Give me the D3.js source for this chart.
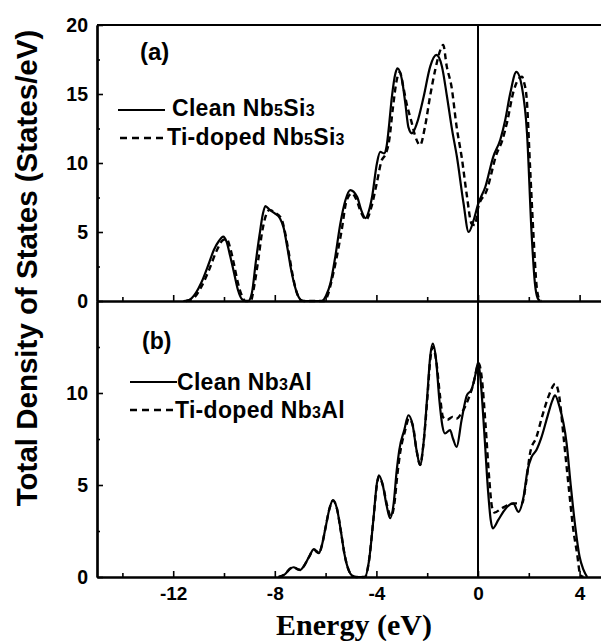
<!DOCTYPE html>
<html><head><meta charset="utf-8">
<script src="https://cdn.jsdelivr.net/npm/d3@7"></script>
<style>html,body{margin:0;padding:0;background:#fff;}svg{display:block;}</style>
</head><body>
<svg id="chart" width="601" height="641"></svg>
<script>
// ---------- data ----------
const energyTicks = [-12, -8, -4, 0, 4];
const energyMinorTicks = [-14, -10, -6, -2, 2];
const dosTicksA = [0, 5, 10, 15, 20];
const dosMinorA = [2.5, 7.5, 12.5, 17.5];
const dosTicksB = [0, 5, 10];
const dosMinorB = [2.5, 7.5, 12.5];

const legendA = ["Clean Nb5Si3", "Ti-doped Nb5Si3"];
const legendB = ["Clean Nb3Al", "Ti-doped Nb3Al"];

// panel (a): clean Nb5Si3  [energy eV, DOS]
const cleanA = [[-11.6,0],[-11.4,0.05],[-11.1,0.6],[-10.9,1.3],[-10.6,2.7],[-10.4,3.7],[-10.2,4.35],[-10.03,4.66],[-9.9,4.3],[-9.75,3.2],[-9.6,2.0],[-9.45,0.8],[-9.3,0.15],[-9.15,0],
 [-9.05,0],[-8.9,0.6],[-8.75,2.8],[-8.6,4.8],[-8.47,6.3],[-8.37,6.88],[-8.2,6.6],[-8.0,6.35],[-7.8,6.0],[-7.65,5.3],[-7.5,3.8],[-7.35,2.2],[-7.2,1.0],[-7.05,0.25],[-6.9,0],
 [-6.15,0],[-5.98,0.4],[-5.81,1.28],[-5.62,3.2],[-5.42,5.6],[-5.22,7.3],[-5.03,8.04],[-4.76,7.55],[-4.6,6.6],[-4.43,6.0],[-4.3,6.5],[-4.17,7.55],[-3.98,9.97],[-3.85,10.8],[-3.7,10.7],[-3.6,11.2],[-3.52,12.4],[-3.39,14.8],[-3.25,16.5],[-3.17,16.86],[-2.99,16.0],[-2.86,14.3],[-2.74,12.6],[-2.6,12.15],[-2.4,12.9],[-2.14,14.8],[-1.88,17.0],[-1.64,17.83],[-1.42,17.0],[-1.22,14.8],[-1.02,12.4],[-0.83,10.45],[-0.57,7.08],[-0.37,5.0],[-0.17,5.87],[0.0,7.0],[0.29,8.28],[0.6,10.45],[0.88,11.7],[1.07,13.1],[1.27,15.05],[1.51,16.6],[1.73,15.5],[1.93,12.15],[2.11,4.9],[2.24,1.3],[2.35,0.2],[2.45,0]];

// panel (a): Ti-doped Nb5Si3
const dopedA = [[-11.5,0],[-11.2,0.2],[-10.9,1.0],[-10.6,2.2],[-10.3,3.6],[-10.05,4.4],[-9.9,4.5],[-9.75,3.8],[-9.6,2.6],[-9.45,1.3],[-9.3,0.4],[-9.15,0],
 [-8.95,0],[-8.8,1.2],[-8.65,3.0],[-8.5,5.0],[-8.35,6.2],[-8.2,6.6],[-8.0,6.4],[-7.75,6.0],[-7.6,5.0],[-7.45,3.5],[-7.3,1.9],[-7.15,0.7],[-7.0,0.1],[-6.85,0],
 [-6.05,0],[-5.9,0.5],[-5.76,1.5],[-5.56,3.2],[-5.37,5.1],[-5.17,7.3],[-4.96,7.8],[-4.8,7.4],[-4.6,6.4],[-4.4,5.9],[-4.2,6.8],[-3.99,8.5],[-3.79,10.2],[-3.65,10.6],[-3.5,11.6],[-3.35,14.0],[-3.2,16.0],[-3.08,16.6],[-2.94,15.5],[-2.81,14.3],[-2.62,13.0],[-2.48,12.0],[-2.28,11.3],[-2.09,12.6],[-1.89,14.8],[-1.69,16.7],[-1.48,18.2],[-1.37,18.55],[-1.23,17.0],[-1.04,15.5],[-0.84,12.6],[-0.64,10.4],[-0.45,7.8],[-0.25,5.6],[-0.12,5.5],[0.01,6.8],[0.34,8.0],[0.74,10.7],[0.95,11.6],[1.15,13.0],[1.4,15.2],[1.6,16.1],[1.73,16.25],[1.82,15.8],[1.92,14.6],[2.05,9.7],[2.18,4.9],[2.31,1.04],[2.42,0.1],[2.5,0]];

// panel (b): clean Nb3Al
const cleanB = [[-7.85,0],[-7.6,0.15],[-7.4,0.45],[-7.26,0.53],[-7.1,0.42],[-7.0,0.38],[-6.85,0.6],[-6.65,1.1],[-6.47,1.5],[-6.35,1.35],[-6.27,1.29],[-6.15,1.7],[-6.0,2.7],[-5.85,3.7],[-5.71,4.18],[-5.55,3.7],[-5.4,2.5],[-5.25,1.2],[-5.1,0.4],[-4.96,0.08],[-4.8,0],
 [-4.45,0],[-4.3,0.8],[-4.12,3.1],[-3.98,5.1],[-3.9,5.53],[-3.75,5.0],[-3.6,3.9],[-3.46,3.2],[-3.32,4.0],[-3.2,5.8],[-3.1,6.9],[-2.9,8.0],[-2.74,8.79],[-2.58,8.3],[-2.42,6.9],[-2.28,6.08],[-2.15,7.2],[-2.0,9.8],[-1.88,12.0],[-1.78,12.68],[-1.65,11.8],[-1.52,9.6],[-1.4,8.2],[-1.3,7.8],[-1.1,7.98],[-0.98,7.5],[-0.84,7.07],[-0.65,8.5],[-0.44,9.87],[-0.25,10.2],[-0.1,11.0],[0.01,11.68],[0.12,10.4],[0.25,7.8],[0.4,4.6],[0.5,3.1],[0.58,2.64],[0.8,3.1],[1.0,3.55],[1.14,3.8],[1.39,4.0],[1.59,3.54],[1.8,4.4],[1.95,5.8],[2.11,6.53],[2.3,6.9],[2.5,7.6],[2.75,8.8],[2.93,9.6],[3.03,9.87],[3.2,9.3],[3.49,7.25],[3.65,5.0],[3.83,2.73],[4.0,1.1],[4.15,0.4],[4.3,0]];

// panel (b): Ti-doped Nb3Al
const dopedB = [[-7.85,0],[-7.6,0.15],[-7.4,0.45],[-7.26,0.53],[-7.1,0.42],[-7.0,0.38],[-6.85,0.6],[-6.65,1.1],[-6.45,1.5],[-6.35,1.4],[-6.25,1.3],[-6.15,1.7],[-6.0,2.7],[-5.85,3.7],[-5.71,4.15],[-5.55,3.7],[-5.4,2.5],[-5.25,1.2],[-5.1,0.4],[-4.96,0.08],[-4.8,0],
 [-4.45,0],[-4.3,0.8],[-4.12,3.1],[-3.98,5.0],[-3.9,5.45],[-3.75,5.0],[-3.58,3.9],[-3.43,3.3],[-3.3,3.9],[-3.18,5.5],[-3.06,6.8],[-2.88,7.9],[-2.72,8.6],[-2.56,8.2],[-2.42,6.9],[-2.28,6.1],[-2.15,7.2],[-2.0,9.6],[-1.88,11.8],[-1.78,12.5],[-1.65,11.8],[-1.5,9.9],[-1.38,8.7],[-1.2,8.55],[-1.0,8.7],[-0.85,8.6],[-0.65,8.9],[-0.4,9.6],[-0.2,10.4],[0.03,11.6],[0.15,10.8],[0.3,8.2],[0.45,5.2],[0.55,3.8],[0.65,3.5],[0.9,3.7],[1.15,3.9],[1.45,4.0],[1.73,4.0],[1.9,5.2],[2.06,6.8],[2.3,7.6],[2.52,8.7],[2.8,9.9],[3.04,10.5],[3.2,9.8],[3.37,7.6],[3.57,4.9],[3.75,2.6],[3.9,1.28],[4.03,0.1],[4.15,0]];

// ---------- layout ----------
const svg = d3.select("#chart");
const plotLeft = 97, plotTop = 25, plotMid = 301, plotBottom = 577;
const x = d3.scaleLinear().domain([-15, 5]).range([plotLeft, 605]);
const yA = d3.scaleLinear().domain([0, 20]).range([plotMid, plotTop]);
const yB = d3.scaleLinear().domain([0, 15]).range([plotBottom, plotMid]);
const sans = "'Liberation Sans', Arial, sans-serif";
const serif = "'Liberation Serif', 'Times New Roman', serif";

function styleAxis(g, fs) {
  g.select(".domain").attr("stroke", "#000").attr("stroke-width", 2.2);
  g.selectAll(".tick line").attr("stroke", "#000").attr("stroke-width", 1.6);
  g.selectAll(".tick text").attr("font-family", sans).attr("font-weight", "bold")
    .attr("font-size", fs).attr("fill", "#000");
}

// top frame line
svg.append("line").attr("x1", plotLeft).attr("x2", 601).attr("y1", plotTop).attr("y2", plotTop)
  .attr("stroke", "#000").attr("stroke-width", 2.2);

// y axes
function yAxes(scale, major, minor) {
  svg.append("g").attr("transform", `translate(${plotLeft},0)`)
    .call(d3.axisLeft(scale).tickValues(minor).tickSize(-3).tickSizeOuter(0).tickFormat(""))
    .call(g => styleAxis(g, 19.5));
  svg.append("g").attr("transform", `translate(${plotLeft},0)`)
    .call(d3.axisLeft(scale).tickValues(major).tickSize(-6).tickSizeOuter(0).tickPadding(9).tickFormat(d3.format("d")))
    .call(g => styleAxis(g, 19.5));
}
yAxes(yA, dosTicksA, dosMinorA);
yAxes(yB, dosTicksB, dosMinorB);

// x axes
function xAxes(yPos, labels) {
  svg.append("g").attr("transform", `translate(0,${yPos})`)
    .call(d3.axisBottom(x).tickValues(energyMinorTicks).tickSize(-4).tickSizeOuter(0).tickFormat(""))
    .call(g => styleAxis(g, 19));
  svg.append("g").attr("transform", `translate(0,${yPos})`)
    .call(d3.axisBottom(x).tickValues(energyTicks).tickSize(-6).tickSizeOuter(0).tickPadding(10)
      .tickFormat(labels ? d3.format("d") : ""))
    .call(g => styleAxis(g, 19));
}
xAxes(plotMid, false);
xAxes(plotBottom, true);
svg.selectAll(".tick text").each(function(){ const t=d3.select(this); t.text(t.text().replace("−","-")); });

// Fermi level
svg.append("line").attr("x1", x(0)).attr("x2", x(0)).attr("y1", plotTop).attr("y2", plotBottom)
  .attr("stroke", "#000").attr("stroke-width", 2);

// curves
function drawCurve(data, yScale, dashed) {
  const line = d3.line().x(d => x(d[0])).y(d => yScale(d[1])).curve(d3.curveMonotoneX);
  svg.append("path").datum(data).attr("d", line).attr("fill", "none")
    .attr("stroke", "#000").attr("stroke-width", dashed ? 2.4 : 2.2)
    .attr("stroke-dasharray", dashed ? "6,4" : null);
}
drawCurve(dopedA, yA, true);
drawCurve(cleanA, yA, false);
drawCurve(dopedB, yB, true);
drawCurve(cleanB, yB, false);

// legends
function legendText(xp, yp, str) {
  const t = svg.append("text").attr("x", xp).attr("y", yp).attr("font-family", sans)
    .attr("font-weight", "bold").attr("font-size", 23).attr("letter-spacing", 0.3).attr("fill", "#000");
  str.split(/(\d)/).forEach(part => {
    if (!part) return;
    t.append("tspan").attr("font-size", /\d/.test(part) ? 16 : 23).text(part);
  });
}
function legendLine(x1, x2, yp, dashed) {
  svg.append("line").attr("x1", x1).attr("x2", x2).attr("y1", yp).attr("y2", yp)
    .attr("stroke", "#000").attr("stroke-width", dashed ? 2.6 : 2.2).attr("stroke-dasharray", dashed ? "7,5" : null);
}
svg.append("text").attr("x", 140).attr("y", 60).attr("font-family", sans).attr("font-weight", "bold")
  .attr("font-size", 24).text("(a)");
legendLine(118, 165, 110, false); legendText(172, 116, legendA[0]);
legendLine(120, 165, 138, true);  legendText(167, 145, legendA[1]);

svg.append("text").attr("x", 142).attr("y", 349).attr("font-family", sans).attr("font-weight", "bold")
  .attr("font-size", 23).text("(b)");
legendLine(130, 177, 382, false); legendText(177, 390, legendB[0]);
legendLine(130, 174, 410, true);  legendText(175, 418, legendB[1]);

// axis titles
svg.append("text").attr("transform", "translate(37,268) rotate(-90)").attr("text-anchor", "middle")
  .attr("font-family", sans).attr("font-weight", "bold").attr("font-size", 29.5)
  .text("Total Density of States (States/eV)");
svg.append("text").attr("x", 354).attr("y", 635).attr("text-anchor", "middle")
  .attr("font-family", serif).attr("font-weight", "bold").attr("font-size", 30)
  .text("Energy (eV)");
</script>
</body></html>
